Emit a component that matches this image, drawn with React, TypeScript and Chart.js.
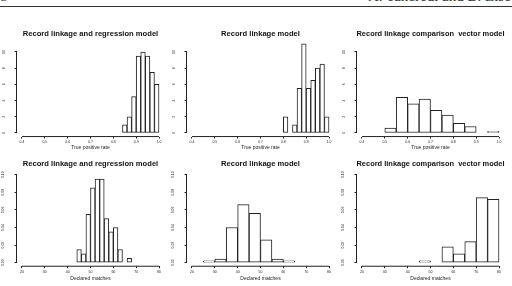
import React, { useEffect, useRef } from 'react';
import { Chart, registerables } from 'chart.js';

Chart.register(...registerables);

// ---- Data: histogram breaks and densities ----
const tprBreaksRegression = [0.84, 0.86, 0.88, 0.9, 0.92, 0.94, 0.96, 0.98, 1.0];
const tprDensityRegression = [1, 2, 4.5, 9.5, 10, 9.5, 7.5, 6];

const tprBreaksLinkage = [0.8, 0.82, 0.84, 0.86, 0.88, 0.9, 0.92, 0.94, 0.96, 0.98, 1.0];
const tprDensityLinkage = [2, 0, 1, 5.5, 11, 5.5, 6.5, 8, 8.5, 2];

const tprBreaksComparison = [0.5, 0.55, 0.6, 0.65, 0.7, 0.75, 0.8, 0.85, 0.9, 0.95, 1.0];
const tprDensityComparison = [0.6, 4.4, 3.6, 4.2, 2.8, 2.2, 1.2, 0.8, 0, 0.2];

const matchBreaksRegression = [44, 46, 48, 50, 52, 54, 56, 58, 60, 62, 64, 66, 68];
const matchDensityRegression = [0.015, 0.01, 0.055, 0.085, 0.095, 0.095, 0.05, 0.035, 0.04, 0.015, 0, 0.005];

const matchBreaksLinkage = [25, 30, 35, 40, 45, 50, 55, 60, 65];
const matchDensityLinkage = [0.002, 0.004, 0.04, 0.066, 0.056, 0.026, 0.004, 0.002];

const matchBreaksComparison = [45, 50, 55, 60, 65, 70, 75, 80];
const matchDensityComparison = [0.002, 0, 0.018, 0.01, 0.024, 0.074, 0.072];

const titleRegression = 'Record linkage and regression model';
const titleLinkage = 'Record linkage model';
const titleComparison = 'Record linkage comparison  vector model';

const tprAxisTitle = 'True positive rate';
const matchAxisTitle = 'Declared matches';

const tprTickValues = [0.4, 0.5, 0.6, 0.7, 0.8, 0.9, 1.0];
const tprTickLabels = ['0.4', '0.5', '0.6', '0.7', '0.8', '0.9', '1.0'];
const tprDensityTickValues = [0, 2, 4, 6, 8, 10];
const tprDensityTickLabels = ['0', '2', '4', '6', '8', '10'];

const matchTickValues = [20, 30, 40, 50, 60, 70, 80];
const matchTickLabels = ['20', '30', '40', '50', '60', '70', '80'];
const matchDensityTickValues = [0, 0.02, 0.04, 0.06, 0.08, 0.1];
const matchDensityTickLabels = ['0.00', '0.02', '0.04', '0.06', '0.08', '0.10'];

const tprLimits = [0.4, 1.0];
const tprDensityLimits = [0, 11];
const matchLimits = [20, 80];
const matchDensityLimits = [0, 0.1];

const runningHeadPage = '8';
const runningHeadAuthors = 'A. Tancredi and B. Liseo';

// ---- Layout and style ----
const INK = '#222';
const SANS = '"Liberation Sans", Arial, Helvetica, sans-serif';
const PANEL_W = 181;
const SIDE = 16.5;
const COL_LEFT = [0, 170, 340];

type RowLayout = {
  top: number;
  height: number;
  titlePad: { top: number; bottom: number };
  axisHeight: number;
  tickPad: number;
  axisTitlePad: number;
  yLabelPad: number;
};

const ROW_TPR: RowLayout = {
  top: 28, height: 124, titlePad: { top: 1.44, bottom: 1.77 },
  axisHeight: 15.44, tickPad: 1.64, axisTitlePad: 1.8, yLabelPad: 8.85,
};
const ROW_MATCH: RowLayout = {
  top: 156, height: 130, titlePad: { top: 3.44, bottom: 2.62 },
  axisHeight: 19.78, tickPad: 1.98, axisTitlePad: 4, yLabelPad: 7.8,
};

type PanelSpec = {
  title: string;
  breaks: number[];
  density: number[];
  xLimits: number[];
  yLimits: number[];
  xTicks: number[];
  xLabels: string[];
  yTicks: number[];
  yLabels: string[];
  axisTitle: string;
  row: RowLayout;
  col: number;
};

const panels: PanelSpec[] = [
  { title: titleRegression, breaks: tprBreaksRegression, density: tprDensityRegression, xLimits: tprLimits, yLimits: tprDensityLimits, xTicks: tprTickValues, xLabels: tprTickLabels, yTicks: tprDensityTickValues, yLabels: tprDensityTickLabels, axisTitle: tprAxisTitle, row: ROW_TPR, col: 0 },
  { title: titleLinkage, breaks: tprBreaksLinkage, density: tprDensityLinkage, xLimits: tprLimits, yLimits: tprDensityLimits, xTicks: tprTickValues, xLabels: tprTickLabels, yTicks: tprDensityTickValues, yLabels: tprDensityTickLabels, axisTitle: tprAxisTitle, row: ROW_TPR, col: 1 },
  { title: titleComparison, breaks: tprBreaksComparison, density: tprDensityComparison, xLimits: tprLimits, yLimits: tprDensityLimits, xTicks: tprTickValues, xLabels: tprTickLabels, yTicks: tprDensityTickValues, yLabels: tprDensityTickLabels, axisTitle: tprAxisTitle, row: ROW_TPR, col: 2 },
  { title: titleRegression, breaks: matchBreaksRegression, density: matchDensityRegression, xLimits: matchLimits, yLimits: matchDensityLimits, xTicks: matchTickValues, xLabels: matchTickLabels, yTicks: matchDensityTickValues, yLabels: matchDensityTickLabels, axisTitle: matchAxisTitle, row: ROW_MATCH, col: 0 },
  { title: titleLinkage, breaks: matchBreaksLinkage, density: matchDensityLinkage, xLimits: matchLimits, yLimits: matchDensityLimits, xTicks: matchTickValues, xLabels: matchTickLabels, yTicks: matchDensityTickValues, yLabels: matchDensityTickLabels, axisTitle: matchAxisTitle, row: ROW_MATCH, col: 1 },
  { title: titleComparison, breaks: matchBreaksComparison, density: matchDensityComparison, xLimits: matchLimits, yLimits: matchDensityLimits, xTicks: matchTickValues, xLabels: matchTickLabels, yTicks: matchDensityTickValues, yLabels: matchDensityTickLabels, axisTitle: matchAxisTitle, row: ROW_MATCH, col: 2 },
];

// Axis ranges padded by 4% on each side, like base R graphics
const padRange = ([lo, hi]: number[]) => {
  const d = (hi - lo) * 0.04;
  return [lo - d, hi + d];
};

// Axis lines that run only from the first to the last tick
const tickSpanAxes = {
  id: 'tickSpanAxes',
  afterDraw(chart: any) {
    const { ctx, chartArea, scales } = chart;
    const x = scales.x;
    const y = scales.y;
    const xt = x.ticks;
    const yt = y.ticks;
    ctx.save();
    ctx.strokeStyle = INK;
    ctx.lineWidth = 1;
    ctx.beginPath();
    ctx.moveTo(x.getPixelForValue(xt[0].value), chartArea.bottom);
    ctx.lineTo(x.getPixelForValue(xt[xt.length - 1].value), chartArea.bottom);
    ctx.moveTo(chartArea.left, y.getPixelForValue(yt[0].value));
    ctx.lineTo(chartArea.left, y.getPixelForValue(yt[yt.length - 1].value));
    ctx.stroke();
    ctx.restore();
  },
};

function buildConfig(spec: PanelSpec): any {
  const [xMin, xMax] = padRange(spec.xLimits);
  const [yMin, yMax] = padRange(spec.yLimits);
  const row = spec.row;
  const points = spec.density.map((d, i) => ({
    x: (spec.breaks[i] + spec.breaks[i + 1]) / 2,
    y: d,
  }));
  const tickGrid = {
    display: true,
    drawOnChartArea: false,
    drawTicks: true,
    tickLength: 2,
    color: INK,
    lineWidth: 1,
    offset: false,
  };
  return {
    type: 'bar',
    data: {
      datasets: [{
        data: points,
        backgroundColor: '#ffffff',
        borderColor: INK,
        borderWidth: 1,
        borderSkipped: false,
        barPercentage: 1,
        categoryPercentage: 1,
      }],
    },
    options: {
      animation: false,
      responsive: false,
      events: [],
      layout: { padding: { left: 0, right: SIDE, top: 0, bottom: 0 } },
      plugins: {
        legend: { display: false },
        tooltip: { enabled: false },
        title: {
          display: true,
          fullSize: false,
          text: spec.title,
          color: '#111',
          font: { family: SANS, size: 7.6, weight: 'bold', lineHeight: 1.2 },
          padding: row.titlePad,
        },
      },
      scales: {
        x: {
          type: 'linear',
          min: xMin,
          max: xMax,
          offset: false,
          grid: tickGrid,
          border: { display: false },
          afterBuildTicks: (s: any) => {
            s.ticks = spec.xTicks.map((v) => ({ value: v }));
          },
          afterFit: (s: any) => {
            s.height = row.axisHeight;
          },
          ticks: {
            autoSkip: false,
            minRotation: 0,
            maxRotation: 0,
            padding: row.tickPad,
            color: INK,
            font: { family: SANS, size: 3.5 },
            callback: (_v: any, i: number) => spec.xLabels[i],
          },
          title: {
            display: true,
            text: spec.axisTitle,
            color: INK,
            font: { family: SANS, size: 5, lineHeight: 1.2 },
            padding: { top: 0, bottom: row.axisTitlePad },
          },
        },
        y: {
          type: 'linear',
          min: yMin,
          max: yMax,
          grid: tickGrid,
          border: { display: false },
          afterBuildTicks: (s: any) => {
            s.ticks = spec.yTicks.map((v) => ({ value: v }));
          },
          afterFit: (s: any) => {
            s.width = SIDE;
          },
          ticks: {
            autoSkip: false,
            minRotation: 90,
            maxRotation: 90,
            crossAlign: 'center',
            padding: row.yLabelPad,
            color: INK,
            font: { family: SANS, size: 3.5 },
            callback: (_v: any, i: number) => spec.yLabels[i],
          },
        },
      },
    },
    plugins: [tickSpanAxes],
  };
}

function HistogramPanel({ spec }: { spec: PanelSpec }) {
  const ref = useRef<HTMLCanvasElement>(null);
  useEffect(() => {
    const chart = new Chart(ref.current as HTMLCanvasElement, buildConfig(spec));
    return () => chart.destroy();
  }, [spec]);
  return (
    <canvas
      ref={ref}
      width={PANEL_W}
      height={spec.row.height}
      style={{
        position: 'absolute',
        left: COL_LEFT[spec.col],
        top: spec.row.top,
        width: PANEL_W,
        height: spec.row.height,
      }}
    />
  );
}

export default function App() {
  const headFont: React.CSSProperties = {
    position: 'absolute',
    top: -11.2,
    fontFamily: '"Liberation Serif", "Times New Roman", serif',
    fontSize: 15,
    lineHeight: '15px',
    color: '#333',
    whiteSpace: 'nowrap',
  };
  return (
    <div
      style={{
        position: 'fixed',
        left: 0,
        top: 0,
        width: 512,
        height: 286,
        overflow: 'hidden',
        background: '#fff',
      }}
    >
      <span style={{ ...headFont, left: 0 }}>{runningHeadPage}</span>
      <span style={{ ...headFont, left: 368 }}>{runningHeadAuthors}</span>
      <div style={{ position: 'absolute', left: 0, top: 5.5, width: 512, height: 1, background: '#333' }} />
      {panels.map((p, i) => (
        <HistogramPanel key={i} spec={p} />
      ))}
    </div>
  );
}
